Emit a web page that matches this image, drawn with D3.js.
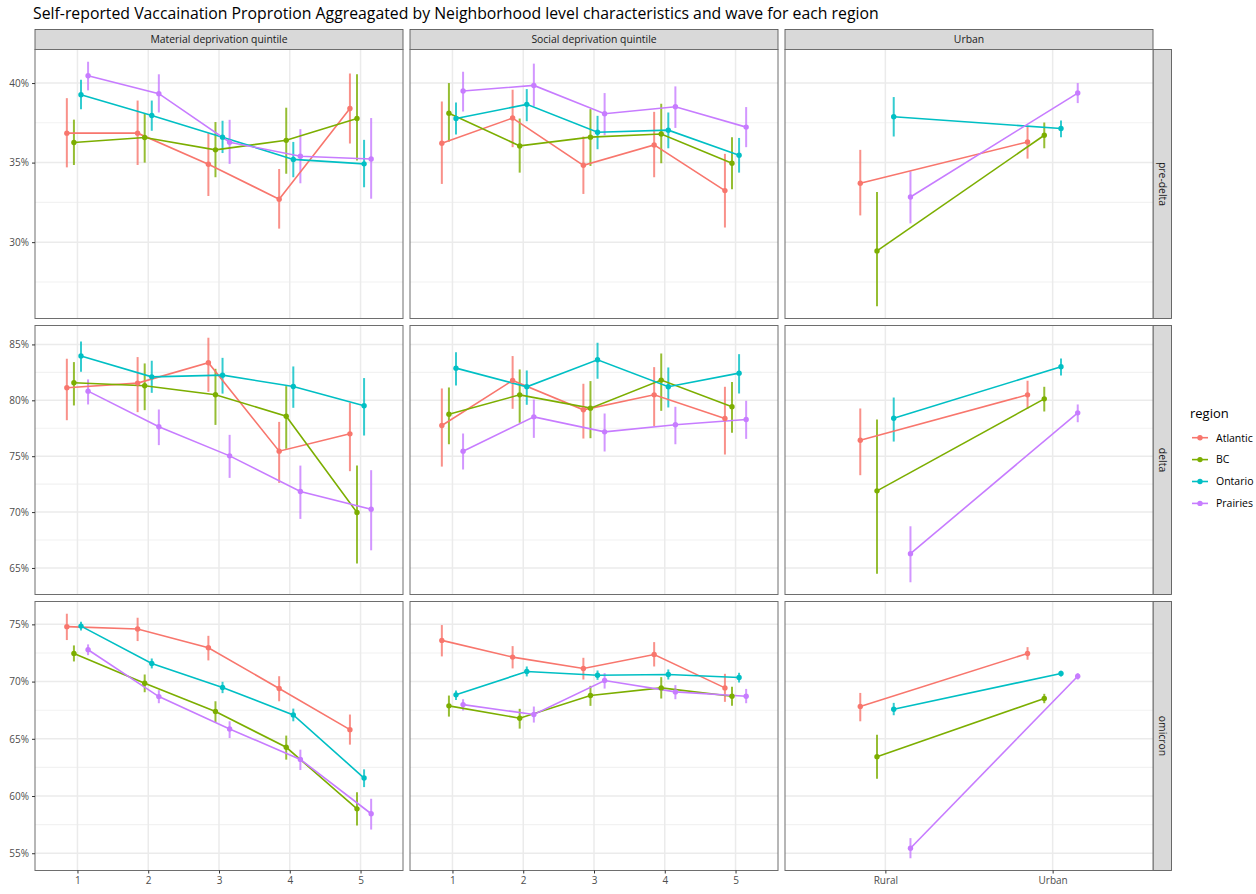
<!DOCTYPE html>
<html>
<head>
<meta charset="utf-8">
<script src="https://cdn.jsdelivr.net/npm/d3@7"></script>
<style>
  html, body { margin: 0; padding: 0; background: #fff; }
  svg { display: block; font-family: "Open Sans", "Noto Sans", sans-serif; }
</style>
</head>
<body>
<svg id="chart" width="1256" height="894"></svg>
<script>
// ---- categories -------------------------------------------------------
const regions = ["Atlantic", "BC", "Ontario", "Prairies"];
const regionColors = ["#F8766D", "#7CAE00", "#00BFC4", "#C77CFF"];
const waves = ["pre-delta", "delta", "omicron"];
const facets = ["Material deprivation quintile", "Social deprivation quintile", "Urban"];
const quintileLevels = ["1", "2", "3", "4", "5"];
const urbanLevels = ["Rural", "Urban"];

// ---- estimates: [region, level, proportion %, lower %, upper %] -------
const preDeltaMaterial = [
  ["Atlantic", "1", 36.85, 34.70, 39.05], ["Atlantic", "2", 36.85, 34.85, 38.90],
  ["Atlantic", "3", 34.90, 32.90, 36.85], ["Atlantic", "4", 32.70, 30.85, 34.60],
  ["Atlantic", "5", 38.40, 36.20, 40.60],
  ["BC", "1", 36.26, 34.85, 37.70], ["BC", "2", 36.58, 35.00, 38.10],
  ["BC", "3", 35.80, 34.08, 37.55], ["BC", "4", 36.40, 34.30, 38.45],
  ["BC", "5", 37.77, 35.13, 40.55],
  ["Ontario", "1", 39.26, 38.36, 40.20], ["Ontario", "2", 37.96, 37.00, 38.90],
  ["Ontario", "3", 36.60, 35.60, 37.63], ["Ontario", "4", 35.20, 34.08, 36.30],
  ["Ontario", "5", 34.92, 33.45, 36.43],
  ["Prairies", "1", 40.46, 39.54, 41.34], ["Prairies", "2", 39.33, 38.15, 40.55],
  ["Prairies", "3", 36.28, 34.92, 37.69], ["Prairies", "4", 35.40, 33.70, 37.10],
  ["Prairies", "5", 35.23, 32.73, 37.80]
];
const preDeltaSocial = [
  ["Atlantic", "1", 36.22, 33.66, 38.84], ["Atlantic", "2", 37.80, 35.97, 39.58],
  ["Atlantic", "3", 34.83, 33.03, 36.64], ["Atlantic", "4", 36.11, 34.08, 38.19],
  ["Atlantic", "5", 33.24, 30.92, 35.55],
  ["BC", "1", 38.10, 36.32, 40.00], ["BC", "2", 36.05, 34.37, 37.77],
  ["BC", "3", 36.60, 34.79, 38.36], ["BC", "4", 36.80, 34.96, 38.70],
  ["BC", "5", 34.96, 33.32, 36.60],
  ["Ontario", "1", 37.77, 36.76, 38.78], ["Ontario", "2", 38.66, 37.60, 39.62],
  ["Ontario", "3", 36.91, 35.84, 37.94], ["Ontario", "4", 37.04, 35.90, 38.15],
  ["Ontario", "5", 35.46, 34.37, 36.55],
  ["Prairies", "1", 39.50, 38.21, 40.71], ["Prairies", "2", 39.85, 38.53, 41.22],
  ["Prairies", "3", 38.07, 36.72, 39.37], ["Prairies", "4", 38.51, 37.18, 39.79],
  ["Prairies", "5", 37.23, 35.97, 38.49]
];
const preDeltaUrban = [
  ["Atlantic", "Rural", 33.70, 31.68, 35.80], ["Atlantic", "Urban", 36.30, 35.25, 37.31],
  ["BC", "Rural", 29.45, 25.97, 33.15], ["BC", "Urban", 36.72, 35.90, 37.52],
  ["Ontario", "Rural", 37.88, 36.64, 39.12], ["Ontario", "Urban", 37.14, 36.60, 37.65],
  ["Prairies", "Rural", 32.84, 31.18, 34.45], ["Prairies", "Urban", 39.37, 38.74, 40.00]
];

const deltaMaterial = [
  ["Atlantic", "1", 81.12, 78.22, 83.72], ["Atlantic", "2", 81.54, 78.94, 83.87],
  ["Atlantic", "3", 83.36, 80.76, 85.60], ["Atlantic", "4", 75.45, 72.61, 78.07],
  ["Atlantic", "5", 77.00, 73.66, 79.78],
  ["BC", "1", 81.57, 79.54, 83.42], ["BC", "2", 81.30, 79.12, 83.30],
  ["BC", "3", 80.50, 77.80, 82.82], ["BC", "4", 78.58, 75.66, 81.27],
  ["BC", "5", 69.96, 65.39, 74.16],
  ["Ontario", "1", 83.96, 82.55, 85.27], ["Ontario", "2", 82.10, 80.67, 83.54],
  ["Ontario", "3", 82.25, 80.60, 83.80], ["Ontario", "4", 81.24, 79.33, 83.03],
  ["Ontario", "5", 79.51, 76.85, 81.99],
  ["Prairies", "1", 80.82, 79.63, 81.87], ["Prairies", "2", 77.63, 75.99, 79.18],
  ["Prairies", "3", 75.03, 73.06, 76.91], ["Prairies", "4", 71.84, 69.39, 74.16],
  ["Prairies", "5", 70.25, 66.58, 73.75]
];
const deltaSocial = [
  ["Atlantic", "1", 77.75, 74.07, 81.06], ["Atlantic", "2", 81.78, 79.24, 83.96],
  ["Atlantic", "3", 79.15, 76.58, 81.48], ["Atlantic", "4", 80.49, 77.69, 82.97],
  ["Atlantic", "5", 78.37, 75.15, 81.21],
  ["BC", "1", 78.76, 76.07, 81.15], ["BC", "2", 80.49, 77.99, 82.76],
  ["BC", "3", 79.30, 76.61, 81.72], ["BC", "4", 81.81, 79.06, 84.19],
  ["BC", "5", 79.42, 77.09, 81.63],
  ["Ontario", "1", 82.88, 81.33, 84.31], ["Ontario", "2", 81.21, 79.60, 82.67],
  ["Ontario", "3", 83.63, 81.93, 85.15], ["Ontario", "4", 81.21, 79.36, 82.94],
  ["Ontario", "5", 82.43, 80.61, 84.13],
  ["Prairies", "1", 75.45, 73.81, 77.03], ["Prairies", "2", 78.52, 76.64, 80.07],
  ["Prairies", "3", 77.18, 75.42, 78.82], ["Prairies", "4", 77.81, 76.07, 79.42],
  ["Prairies", "5", 78.28, 76.55, 79.96]
];
const deltaUrban = [
  ["Atlantic", "Rural", 76.43, 73.30, 79.27], ["Atlantic", "Urban", 80.49, 79.24, 81.75],
  ["BC", "Rural", 71.90, 64.49, 78.28], ["BC", "Urban", 80.13, 79.00, 81.21],
  ["Ontario", "Rural", 78.40, 76.31, 80.25], ["Ontario", "Urban", 83.00, 82.22, 83.75],
  ["Prairies", "Rural", 66.28, 63.72, 68.73], ["Prairies", "Urban", 78.88, 78.04, 79.63]
];

const omicronMaterial = [
  ["Atlantic", "1", 74.80, 73.63, 75.93], ["Atlantic", "2", 74.59, 73.54, 75.58],
  ["Atlantic", "3", 72.96, 71.85, 74.00], ["Atlantic", "4", 69.39, 68.28, 70.47],
  ["Atlantic", "5", 65.80, 64.49, 67.12],
  ["BC", "1", 72.46, 71.76, 73.16], ["BC", "2", 69.86, 69.07, 70.62],
  ["BC", "3", 67.38, 66.45, 68.28], ["BC", "4", 64.26, 63.18, 65.28],
  ["BC", "5", 58.88, 57.42, 60.34],
  ["Ontario", "1", 74.85, 74.47, 75.23], ["Ontario", "2", 71.58, 71.15, 72.02],
  ["Ontario", "3", 69.48, 68.99, 69.98], ["Ontario", "4", 67.09, 66.53, 67.64],
  ["Ontario", "5", 61.57, 60.78, 62.33],
  ["Prairies", "1", 72.78, 72.31, 73.25], ["Prairies", "2", 68.69, 68.11, 69.25],
  ["Prairies", "3", 65.86, 65.07, 66.53], ["Prairies", "4", 63.20, 62.27, 64.05],
  ["Prairies", "5", 58.45, 57.07, 59.76]
];
const omicronSocial = [
  ["Atlantic", "1", 73.60, 72.20, 74.94], ["Atlantic", "2", 72.14, 71.15, 73.10],
  ["Atlantic", "3", 71.15, 70.18, 72.08], ["Atlantic", "4", 72.37, 71.32, 73.45],
  ["Atlantic", "5", 69.45, 68.23, 70.68],
  ["BC", "1", 67.88, 66.94, 68.78], ["BC", "2", 66.80, 65.89, 67.62],
  ["BC", "3", 68.78, 67.88, 69.63], ["BC", "4", 69.45, 68.52, 70.39],
  ["BC", "5", 68.72, 67.88, 69.54],
  ["Ontario", "1", 68.84, 68.40, 69.22], ["Ontario", "2", 70.88, 70.45, 71.32],
  ["Ontario", "3", 70.56, 70.15, 70.97], ["Ontario", "4", 70.62, 70.18, 71.06],
  ["Ontario", "5", 70.36, 69.92, 70.77],
  ["Prairies", "1", 67.99, 67.47, 68.46], ["Prairies", "2", 67.12, 66.42, 67.82],
  ["Prairies", "3", 70.09, 69.39, 70.74], ["Prairies", "4", 69.10, 68.46, 69.69],
  ["Prairies", "5", 68.72, 68.11, 69.36]
];
const omicronUrban = [
  ["Atlantic", "Rural", 67.82, 66.53, 69.01], ["Atlantic", "Urban", 72.46, 71.91, 73.01],
  ["BC", "Rural", 63.44, 61.51, 65.36], ["BC", "Urban", 68.52, 68.11, 68.93],
  ["Ontario", "Rural", 67.58, 67.06, 68.14], ["Ontario", "Urban", 70.71, 70.45, 70.94],
  ["Prairies", "Rural", 55.44, 54.56, 56.32], ["Prairies", "Urban", 70.47, 70.18, 70.74]
];

const panelData = [
  [preDeltaMaterial, preDeltaSocial, preDeltaUrban],
  [deltaMaterial, deltaSocial, deltaUrban],
  [omicronMaterial, omicronSocial, omicronUrban]
];
const facetLevels = [quintileLevels, quintileLevels, urbanLevels];

const titleText = "Self-reported Vaccaination Proprotion Aggreagated by Neighborhood level characteristics and wave for each region";

// ---- layout -------------------------------------------------------------
const svg = d3.select("#chart");
const colLeft = [35, 410, 785];
const panelW = 368;
const rowTop = [49.5, 325.5, 601.5];
const panelH = 269;
const stripH = 20;
const rightStripW = 18.5;
const dodge = 0.4;

const color = d3.scaleOrdinal().domain(regions).range(regionColors);

svg.append("text")
  .attr("x", 33).attr("y", 19)
  .attr("font-size", 15.8).attr("fill", "#000")
  .text(titleText);

// column strips
facets.forEach((f, c) => {
  const g = svg.append("g").attr("transform", `translate(${colLeft[c]},${rowTop[0] - stripH})`);
  g.append("rect").attr("width", panelW).attr("height", stripH)
    .attr("fill", "#D9D9D9").attr("stroke", "#5a5a5a").attr("stroke-width", 0.9);
  g.append("text").attr("x", panelW / 2).attr("y", stripH / 2 + 3.7)
    .attr("text-anchor", "middle").attr("font-size", 10.4).attr("fill", "#1A1A1A").text(f);
});

// row strips
waves.forEach((w, r) => {
  const x0 = colLeft[2] + panelW;
  const g = svg.append("g").attr("transform", `translate(${x0},${rowTop[r]})`);
  g.append("rect").attr("width", rightStripW).attr("height", panelH)
    .attr("fill", "#D9D9D9").attr("stroke", "#5a5a5a").attr("stroke-width", 0.9);
  g.append("text")
    .attr("transform", `translate(${rightStripW / 2 - 3.7},${panelH / 2}) rotate(90)`)
    .attr("text-anchor", "middle").attr("font-size", 10.4).attr("fill", "#1A1A1A").text(w);
});

// y scales per wave, padded 5% around error-bar extent
const yScales = panelData.map((rowPanels, r) => {
  const all = rowPanels.flat();
  const lo = d3.min(all, d => d[3]);
  const hi = d3.max(all, d => d[4]);
  const pad = (hi - lo) * 0.05;
  return d3.scaleLinear().domain([lo - pad, hi + pad]).range([rowTop[r] + panelH, rowTop[r]]);
});

const xScales = facetLevels.map((levels, c) =>
  d3.scaleLinear().domain([0.4, levels.length + 0.6]).range([colLeft[c], colLeft[c] + panelW]));

const line = d3.line();

panelData.forEach((rowPanels, r) => {
  const y = yScales[r];
  const [d0, d1] = y.domain();
  const majors = d3.range(Math.ceil(d0 / 5) * 5, d1 + 1e-9, 5);
  const minors = d3.range(Math.ceil((d0 - 2.5) / 5) * 5 + 2.5, d1 + 1e-9, 5).filter(v => v > d0);

  rowPanels.forEach((rows, c) => {
    const x = xScales[c];
    const levels = facetLevels[c];
    const left = colLeft[c], top = rowTop[r];
    const g = svg.append("g");

    g.append("rect").attr("x", left).attr("y", top).attr("width", panelW).attr("height", panelH)
      .attr("fill", "#fff");

    // grid
    g.selectAll(".minor").data(minors).join("line")
      .attr("x1", left).attr("x2", left + panelW)
      .attr("y1", d => y(d)).attr("y2", d => y(d))
      .attr("stroke", "#F2F2F2").attr("stroke-width", 1.1);
    g.selectAll(".major").data(majors).join("line")
      .attr("x1", left).attr("x2", left + panelW)
      .attr("y1", d => y(d)).attr("y2", d => y(d))
      .attr("stroke", "#EBEBEB").attr("stroke-width", 1.5);
    g.selectAll(".vmajor").data(levels.map((_, i) => i + 1)).join("line")
      .attr("x1", d => x(d)).attr("x2", d => x(d))
      .attr("y1", top).attr("y2", top + panelH)
      .attr("stroke", "#EBEBEB").attr("stroke-width", 1.5);

    // marks
    const pts = rows.map(d => {
      const ri = regions.indexOf(d[0]);
      const off = -dodge / 2 + dodge / regions.length * (ri + 0.5);
      return { region: d[0], xv: levels.indexOf(d[1]) + 1 + off, est: d[2], lo: d[3], hi: d[4] };
    });

    g.selectAll(".err").data(pts).join("line")
      .attr("x1", d => x(d.xv)).attr("x2", d => x(d.xv))
      .attr("y1", d => y(d.lo)).attr("y2", d => y(d.hi))
      .attr("stroke", d => color(d.region)).attr("stroke-width", 2).attr("stroke-opacity", 0.8);

    regions.forEach(reg => {
      const sp = pts.filter(p => p.region === reg);
      g.append("path")
        .attr("d", line(sp.map(p => [x(p.xv), y(p.est)])))
        .attr("fill", "none").attr("stroke", color(reg)).attr("stroke-width", 1.6);
    });

    g.selectAll(".pt").data(pts).join("circle")
      .attr("cx", d => x(d.xv)).attr("cy", d => y(d.est)).attr("r", 2.7)
      .attr("fill", d => color(d.region));

    g.append("rect").attr("x", left).attr("y", top).attr("width", panelW).attr("height", panelH)
      .attr("fill", "none").attr("stroke", "#6e6e6e").attr("stroke-width", 1);

    // axes
    if (c === 0) {
      const ax = svg.append("g").attr("transform", `translate(${left},0)`)
        .call(d3.axisLeft(y).tickValues(majors).tickSize(3).tickPadding(3).tickFormat(d => d + "%"));
      ax.select(".domain").remove();
      ax.selectAll("line").attr("stroke", "#333");
      ax.selectAll("text").attr("font-size", 10).attr("fill", "#4D4D4D")
        .attr("font-family", "'Open Sans', 'Noto Sans', sans-serif");
    }
    if (r === waves.length - 1) {
      const ax = svg.append("g").attr("transform", `translate(0,${top + panelH})`)
        .call(d3.axisBottom(x).tickValues(levels.map((_, i) => i + 1)).tickSize(3).tickPadding(3)
          .tickFormat(d => levels[d - 1]));
      ax.select(".domain").remove();
      ax.selectAll("line").attr("stroke", "#333");
      ax.selectAll("text").attr("font-size", 10).attr("fill", "#4D4D4D")
        .attr("font-family", "'Open Sans', 'Noto Sans', sans-serif");
    }
  });
});

// legend
const lg = svg.append("g").attr("transform", "translate(1190,0)");
lg.append("text").attr("x", 0).attr("y", 418).attr("font-size", 13).attr("fill", "#000").text("region");
regions.forEach((reg, i) => {
  const yy = 437.7 + i * 21.9;
  lg.append("line").attr("x1", 2).attr("x2", 18).attr("y1", yy).attr("y2", yy)
    .attr("stroke", color(reg)).attr("stroke-width", 1.6);
  lg.append("circle").attr("cx", 10).attr("cy", yy).attr("r", 2.7).attr("fill", color(reg));
  lg.append("text").attr("x", 26).attr("y", yy + 3.8).attr("font-size", 10.5).attr("fill", "#000").text(reg);
});
</script>
</body>
</html>
